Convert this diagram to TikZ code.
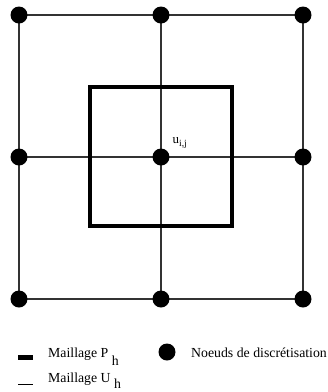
\documentclass[tikz,border=0pt]{standalone}
\usepackage{fontspec}
\setmainfont{Liberation Serif}
\begin{document}
\begin{tikzpicture}[x=1pt,y=-1pt,
  gridline/.style={draw=black!80, line width=1.3pt},
  thickbox/.style={draw=black, line width=4.5pt},
  dotnode/.style={circle, fill=black, inner sep=0pt, minimum size=17pt},
  legtext/.style={anchor=base west, inner sep=0pt, font=\fontsize{13.8}{16}\selectfont},
  lbl/.style={anchor=base west, inner sep=0pt, font=\fontsize{13}{15}\selectfont}]
\useasboundingbox (0,0) rectangle (328,392);
% grid coordinates
\foreach \i/\x in {0/19,1/161,2/303}{
  \foreach \j/\y in {0/15,1/157,2/299}{
    \coordinate (g\i\j) at (\x,\y);
  }
}
% thin mesh U_h
\draw[gridline] (g00) -- (g20) (g01) -- (g21) (g02) -- (g22);
\draw[gridline] (g00) -- (g02) (g10) -- (g12) (g20) -- (g22);
% thick mesh P_h
\coordinate (p1) at (90,87);
\coordinate (p2) at (232,226);
\draw[thickbox] (p1) rectangle (p2);
% nodes
\foreach \i in {0,1,2}{
  \foreach \j in {0,1,2}{
    \node[dotnode] (n\i\j) at (g\i\j) {};
  }
}
\node[lbl] (uij) at (172.5,143) {u\raisebox{-3pt}{\fontsize{9.5}{10}\selectfont i,j}};
% legend
\coordinate (lp1) at (18,357);
\coordinate (lp2) at (33,357);
\draw[draw=black, line width=5pt] (lp1) -- (lp2);
\node[legtext] (lpt) at (48,357) {Maillage P \raisebox{-8pt}{h}};
\coordinate (lu1) at (18,384);
\coordinate (lu2) at (33,384);
\draw[draw=black, line width=1pt] (lu1) -- (lu2);
\node[legtext] (lut) at (48,382) {Maillage U \raisebox{-6pt}{h}};
\node[dotnode] (ld) at (167,352) {};
\node[legtext] (ldt) at (191,357) {Noeuds de discrétisation};
\end{tikzpicture}
\end{document}
